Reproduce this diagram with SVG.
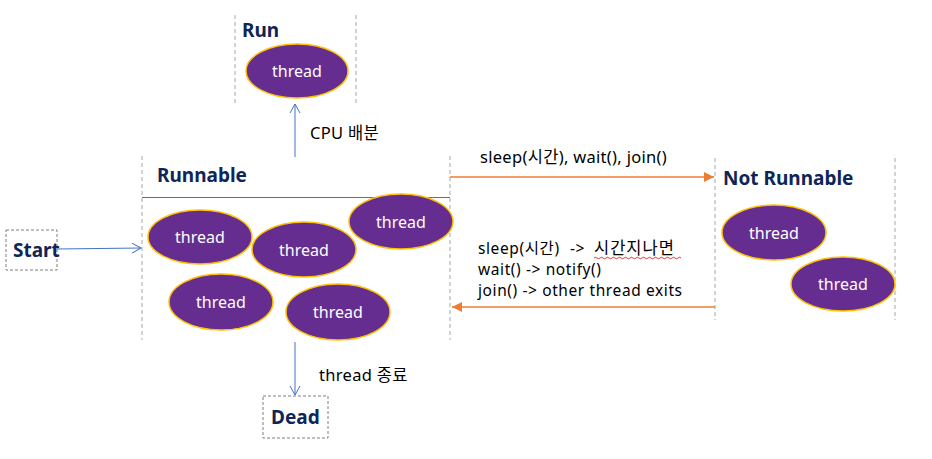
<svg xmlns="http://www.w3.org/2000/svg" width="932" height="459" viewBox="0 0 932 459">
<defs>
<style>
.lane{stroke:#a6a6a6;stroke-width:1;stroke-dasharray:4 3;fill:none}
.box{stroke:#7f7f7f;stroke-width:1;stroke-dasharray:3 2;fill:#fff}
.th ellipse{fill:#662D91;stroke:#FFC000;stroke-width:1.5}
.th text{fill:#fff;font-family:"Noto Sans","Noto Sans CJK KR",sans-serif;font-size:16px;text-anchor:middle}
.title{fill:#0F2557;font-family:"Noto Sans","Noto Sans CJK KR",sans-serif;font-size:19px;font-weight:bold}
.lbl{fill:#000;font-family:"Noto Sans","Noto Sans CJK KR",sans-serif;font-size:16.5px;letter-spacing:0.3px}
.lbl2{fill:#000;font-family:"Noto Sans","Noto Sans CJK KR",sans-serif;font-size:15.5px;letter-spacing:0.6px}
.blue{stroke:#4472C4;stroke-width:1;fill:none}
.orange{stroke:#ED7D31;stroke-width:1.5;fill:none}
</style>
<marker id="openB" markerWidth="12" markerHeight="12" refX="10" refY="6" orient="auto" markerUnits="userSpaceOnUse">
<path d="M1,1 L10,6 L1,11" fill="none" stroke="#4472C4" stroke-width="1"/>
</marker>
<marker id="triO" markerWidth="12" markerHeight="12" refX="10" refY="6" orient="auto" markerUnits="userSpaceOnUse">
<path d="M0,1 L10,6 L0,11 Z" fill="#ED7D31"/>
</marker>
</defs>
<rect width="932" height="459" fill="#fff"/>

<g id="run">
<line class="lane" x1="235" y1="15" x2="235" y2="105"/>
<line class="lane" x1="356" y1="15" x2="356" y2="105"/>
<text class="title" x="242" y="37">Run</text>
<g class="th"><ellipse cx="297" cy="71" rx="51" ry="27"/><text x="297" y="77">thread</text></g>
</g>

<g id="runnable">
<line class="lane" x1="142" y1="156" x2="142" y2="340"/>
<line class="lane" x1="450" y1="156" x2="450" y2="340"/>
<text class="title" x="157" y="182">Runnable</text>
<line x1="142" y1="197.5" x2="450" y2="197.5" stroke="#4472C4" stroke-width="1"/>
<g class="th"><ellipse cx="200" cy="237" rx="52" ry="27"/><text x="200" y="243">thread</text></g>
<g class="th"><ellipse cx="304" cy="249.5" rx="52" ry="27.5"/><text x="304" y="256">thread</text></g>
<g class="th"><ellipse cx="401" cy="221.5" rx="52" ry="27.5"/><text x="401" y="228">thread</text></g>
<g class="th"><ellipse cx="221" cy="302" rx="52" ry="28"/><text x="221" y="308">thread</text></g>
<g class="th"><ellipse cx="338" cy="312" rx="52" ry="28"/><text x="338" y="318">thread</text></g>
</g>

<g id="notrunnable">
<line class="lane" x1="715" y1="158" x2="715" y2="320"/>
<line class="lane" x1="895" y1="158" x2="895" y2="320"/>
<text class="title" x="723" y="185">Not Runnable</text>
<g class="th"><ellipse cx="774" cy="232.5" rx="52" ry="27.5"/><text x="774" y="239">thread</text></g>
<g class="th"><ellipse cx="843" cy="284" rx="52" ry="27"/><text x="843" y="290">thread</text></g>
</g>

<g id="start">
<rect class="box" x="6" y="230" width="51" height="40"/>
<text class="title" x="13" y="257">Start</text>
</g>

<g id="dead">
<rect class="box" x="263" y="396" width="65" height="42"/>
<text class="title" x="271" y="424">Dead</text>
</g>

<g id="connectors">
<line class="blue" x1="57" y1="249" x2="141" y2="248" marker-end="url(#openB)"/>
<line class="blue" x1="295" y1="157" x2="295" y2="104" marker-end="url(#openB)"/>
<line class="blue" x1="295" y1="342" x2="295" y2="395" marker-end="url(#openB)"/>
<line class="orange" x1="450" y1="177" x2="714" y2="177" marker-end="url(#triO)"/>
<line class="orange" x1="715" y1="307" x2="452" y2="307" marker-end="url(#triO)"/>
<text class="lbl" x="310" y="139">CPU 배분</text>
<text class="lbl" x="319" y="381">thread 종료</text>
<text class="lbl" x="480" y="163">sleep(시간), wait(), join()</text>
<text class="lbl2" x="478" y="254">sleep(시간)<tspan x="570">-&gt;</tspan><tspan x="594" style="font-size:16.5px;letter-spacing:1px">시간지나면</tspan></text>
<path d="M594,258 q1.5,-1.5 3,0 t3,0 t3,0 t3,0 t3,0 t3,0 t3,0 t3,0 t3,0 t3,0 t3,0 t3,0 t3,0 t3,0 t3,0 t3,0 t3,0 t3,0 t3,0 t3,0 t3,0 t3,0 t3,0 t3,0 t3,0 t3,0 t3,0 t3,0 t3,0" fill="none" stroke="#e00" stroke-width="0.8"/>
<text class="lbl2" x="478" y="275">wait() -&gt; notify()</text>
<text class="lbl2" x="478" y="296">join() -&gt; other thread exits</text>
</g>
</svg>
